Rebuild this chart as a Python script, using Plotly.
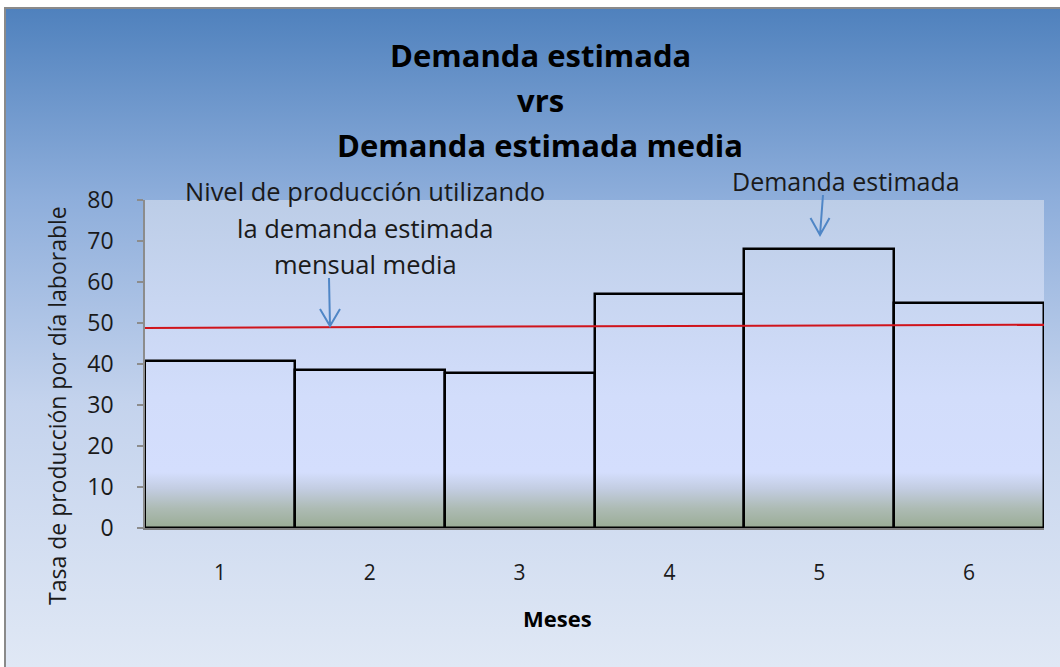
import base64
import plotly.graph_objects as go

# ---------------- data ----------------
meses = [1, 2, 3, 4, 5, 6]
mes_labels = ["1", "2", "3", "4", "5", "6"]
demanda_estimada = [40.7, 38.6, 37.7, 57.1, 68.1, 54.9]
media_x = [0.4, 6.54]          # span of the hand-drawn mean line (month units)
media_y = [48.8, 49.6]         # mean estimated demand line
y_ticks = [0, 10, 20, 30, 40, 50, 60, 70, 80]

title_lines = ["Demanda estimada", "vrs", "Demanda estimada media"]
nota_media = ["Nivel de producción utilizando", "la demanda estimada", "mensual media"]
nota_demanda = "Demanda estimada"
y_title = "Tasa de producción por día laborable"
x_title = "Meses"

# ---------------- geometry helpers ----------------
W, H = 1060, 667
L, R, T, B = 130, 1050, 200, 528   # subplot paper area in pixels
PW, PH = R - L, B - T


def px(x):
    return (x - L) / PW


def py(y):
    return (B - y) / PH


FONT = "Open Sans"


def grad_uri(stops):
    st = "".join(f'<stop offset="{o}" stop-color="{c}"/>' for o, c in stops)
    svg = (
        '<svg xmlns="http://www.w3.org/2000/svg" width="100" height="100" '
        'preserveAspectRatio="none" viewBox="0 0 100 100">'
        f'<defs><linearGradient id="g" x1="0" y1="0" x2="0" y2="1">{st}</linearGradient></defs>'
        '<rect x="0" y="0" width="100" height="100" fill="url(#g)"/></svg>'
    )
    return "data:image/svg+xml;base64," + base64.b64encode(svg.encode()).decode()


outer_bg = grad_uri([(0, "#4f81bd"), (0.29, "#8eaedb"), (0.6, "#c4d3ed"), (1, "#e0e8f5")])
plot_bg = grad_uri([
    (0, "#bccde7"), (0.3, "#c8d6f1"), (0.6, "#d2ddfb"), (0.83, "#d4defd"),
    (0.88, "#c3cde2"), (0.94, "#adbbb4"), (1, "#9aac95"),
])

fig = go.Figure()

fig.add_trace(go.Bar(
    x=meses, y=demanda_estimada, width=1,
    marker=dict(color="rgba(0,0,0,0)", line=dict(color="#000000", width=2.5)),
    name="Demanda estimada", showlegend=False,
))

fig.add_trace(go.Scatter(
    x=media_x, y=media_y, mode="lines", xaxis="x2", yaxis="y2",
    line=dict(color="#d0141c", width=2), name="Demanda media", showlegend=False,
))

annotations = []
for txt, yc in zip(title_lines, [55, 100, 145]):
    annotations.append(dict(
        text=f"<b>{txt}</b>", x=px(540), y=py(yc), xref="paper", yref="paper",
        xanchor="center", yanchor="middle", showarrow=False,
        font=dict(family=FONT, size=31, color="#000000"),
    ))
for txt, yc in zip(nota_media, [191, 228, 264]):
    annotations.append(dict(
        text=txt, x=px(365), y=py(yc), xref="paper", yref="paper",
        xanchor="center", yanchor="middle", showarrow=False,
        font=dict(family=FONT, size=25.5, color="#1a1a1a"),
    ))
annotations.append(dict(
    text=nota_demanda, x=px(846), y=py(181), xref="paper", yref="paper",
    xanchor="center", yanchor="middle", showarrow=False,
    font=dict(family=FONT, size=25, color="#1a1a1a"),
))
annotations.append(dict(
    text=y_title, x=px(57), y=py(406), xref="paper", yref="paper",
    xanchor="center", yanchor="middle", showarrow=False, textangle=-90,
    font=dict(family=FONT, size=23, color="#1a1a1a"),
))
annotations.append(dict(
    text=f"<b>{x_title}</b>", x=px(557), y=py(618), xref="paper", yref="paper",
    xanchor="center", yanchor="middle", showarrow=False,
    font=dict(family=FONT, size=22, color="#000000"),
))


def arrow_path(x0, y0, x1, y1, wing):
    # open V arrow drawn in pixel space, converted to paper coordinates
    return (f"M{px(x0)},{py(y0)} L{px(x1)},{py(y1)} "
            f"M{px(x1 - wing)},{py(y1 - 17)} L{px(x1)},{py(y1)} L{px(x1 + wing)},{py(y1 - 17)}")


shapes = [
    dict(type="path", xref="paper", yref="paper",
         path=arrow_path(329, 278, 330, 326, 10), line=dict(color="#4f86c6", width=2)),
    dict(type="path", xref="paper", yref="paper",
         path=arrow_path(823, 195, 820, 235, 9.5), line=dict(color="#4f86c6", width=2)),
    dict(type="rect", xref="paper", yref="paper", x0=px(5), x1=px(1063), y0=py(8), y1=py(670),
         line=dict(color="#8a8a8a", width=2), fillcolor="rgba(0,0,0,0)", layer="above"),
]

images = [
    dict(source=outer_bg, xref="paper", yref="paper", x=px(5), y=py(8),
         sizex=(W - 5) / PW, sizey=(H - 8) / PH, xanchor="left", yanchor="top",
         sizing="stretch", layer="below"),
    dict(source=plot_bg, xref="paper", yref="paper", x=px(145), y=py(200),
         sizex=(1044 - 145) / PW, sizey=(528 - 200) / PH, xanchor="left", yanchor="top",
         sizing="stretch", layer="below"),
]

fig.update_layout(
    width=W, height=H,
    margin=dict(l=L, r=W - R, t=T, b=H - B, autoexpand=False),
    paper_bgcolor="#ffffff", plot_bgcolor="rgba(0,0,0,0)",
    bargap=0, showlegend=False,
    font=dict(family=FONT, color="#1a1a1a"),
    xaxis=dict(
        domain=[px(145), px(1044)], range=[0.5, 6.5],
        tickvals=meses, ticktext=mes_labels, ticks="", showgrid=False, zeroline=False,
        showline=True, linecolor="#7f7f7f", linewidth=2,
        tickfont=dict(family=FONT, size=21, color="#1a1a1a"), ticklabelstandoff=25,
        fixedrange=True,
    ),
    yaxis=dict(
        domain=[0, 1], range=[0, 80], tickvals=y_ticks,
        ticks="outside", ticklen=6, tickcolor="#8c8c8c", tickwidth=1.5,
        showgrid=False, zeroline=False, showline=True, linecolor="#8c8c8c", linewidth=1.5,
        tickfont=dict(family=FONT, size=23, color="#1a1a1a"), ticklabelstandoff=19,
        fixedrange=True,
    ),
    xaxis2=dict(domain=[0, 1], range=media_x, overlaying="x", anchor="y2", visible=False),
    yaxis2=dict(domain=[0, 1], range=[0, 80], overlaying="y", anchor="x2", visible=False),
    annotations=annotations, shapes=shapes, images=images,
)

fig.write_html("out.html")
